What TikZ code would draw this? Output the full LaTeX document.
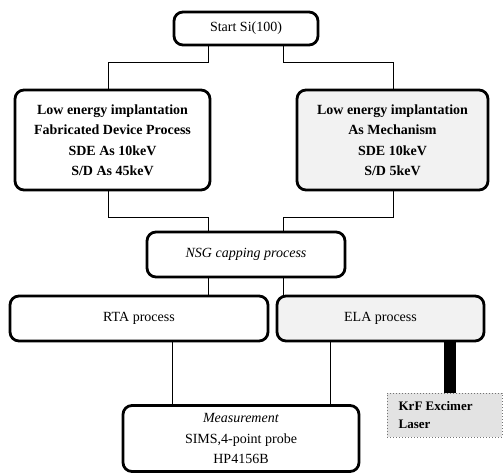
\documentclass[tikz,border=0pt]{standalone}
\usepackage{fontspec}
\setmainfont{Liberation Serif}
\usetikzlibrary{calc}
\begin{document}
\begin{tikzpicture}[x=1pt,y=-1pt,
  box/.style={draw=black,line width=2.8pt,rounded corners=9pt,align=center,
    inner sep=0pt,font=\fontsize{14}{20.5}\selectfont},
  graybox/.style={box,fill=black!5},
  conn/.style={draw=black,line width=1pt}]
\useasboundingbox (0,0) rectangle (503,473);
\node[box,minimum width=144,minimum height=33] (start) at (246,28.5) {Start Si(100)};
\node[box,minimum width=195,minimum height=100,font=\bfseries\fontsize{14}{20.5}\selectfont] (left) at (112.5,140)
  {Low energy implantation\\Fabricated Device Process\\SDE As 10keV\\S/D As 45keV};
\node[graybox,minimum width=191,minimum height=100,font=\bfseries\fontsize{14}{20.5}\selectfont] (right) at (392.5,140)
  {Low energy implantation\\As Mechanism\\SDE 10keV\\S/D 5keV};
\node[box,minimum width=198,minimum height=45] (nsg) at (246,254.5) {\textit{NSG capping process}};
\node[box,minimum width=258,minimum height=45] (rta) at (139,318.5) {RTA process};
\node[graybox,minimum width=207,minimum height=45] (ela) at (380.5,318.5) {ELA process};
\node[box,minimum width=236,minimum height=66] (meas) at (241,438.5)
  {\textit{Measurement}\\SIMS,4-point probe\\HP4156B};
\node[draw=black!55,dotted,line width=1pt,fill=black!11,minimum width=115,minimum height=44,
  inner sep=0pt,align=left,font=\bfseries\fontsize{13}{18}\selectfont] (krf) at (444.5,415)
  {\hspace*{-12pt}KrF Excimer\\\hspace*{-12pt}Laser\hspace*{48pt}};
\coordinate (xa) at (108,0);
\coordinate (xb) at (208,0);
\coordinate (xc) at (283,0);
\coordinate (xd) at (393,0);
\coordinate (xe) at (172,0);
\coordinate (xf) at (330,0);
\coordinate (xg) at (450,0);
\coordinate (ya) at (0,63);
\coordinate (yb) at (0,217);
\draw[conn] (start.south -| xb) -- (xb |- ya) -- (xa |- ya) -- (left.north -| xa);
\draw[conn] (start.south -| xc) -- (xc |- ya) -- (xd |- ya) -- (right.north -| xd);
\draw[conn] (left.south -| xa) -- (xa |- yb) -- (xb |- yb) -- (nsg.north -| xb);
\draw[conn] (right.south -| xd) -- (xd |- yb) -- (xc |- yb) -- (nsg.north -| xc);
\draw[conn] (nsg.south -| xb) -- (rta.north -| xb);
\draw[conn] (nsg.south -| xc) -- (ela.north -| xc);
\draw[conn] (rta.south -| xe) -- (meas.north -| xe);
\draw[conn] (ela.south -| xf) -- (meas.north -| xf);
\draw[line width=12pt] (ela.south -| xg) -- (krf.north -| xg);
\end{tikzpicture}
\end{document}
